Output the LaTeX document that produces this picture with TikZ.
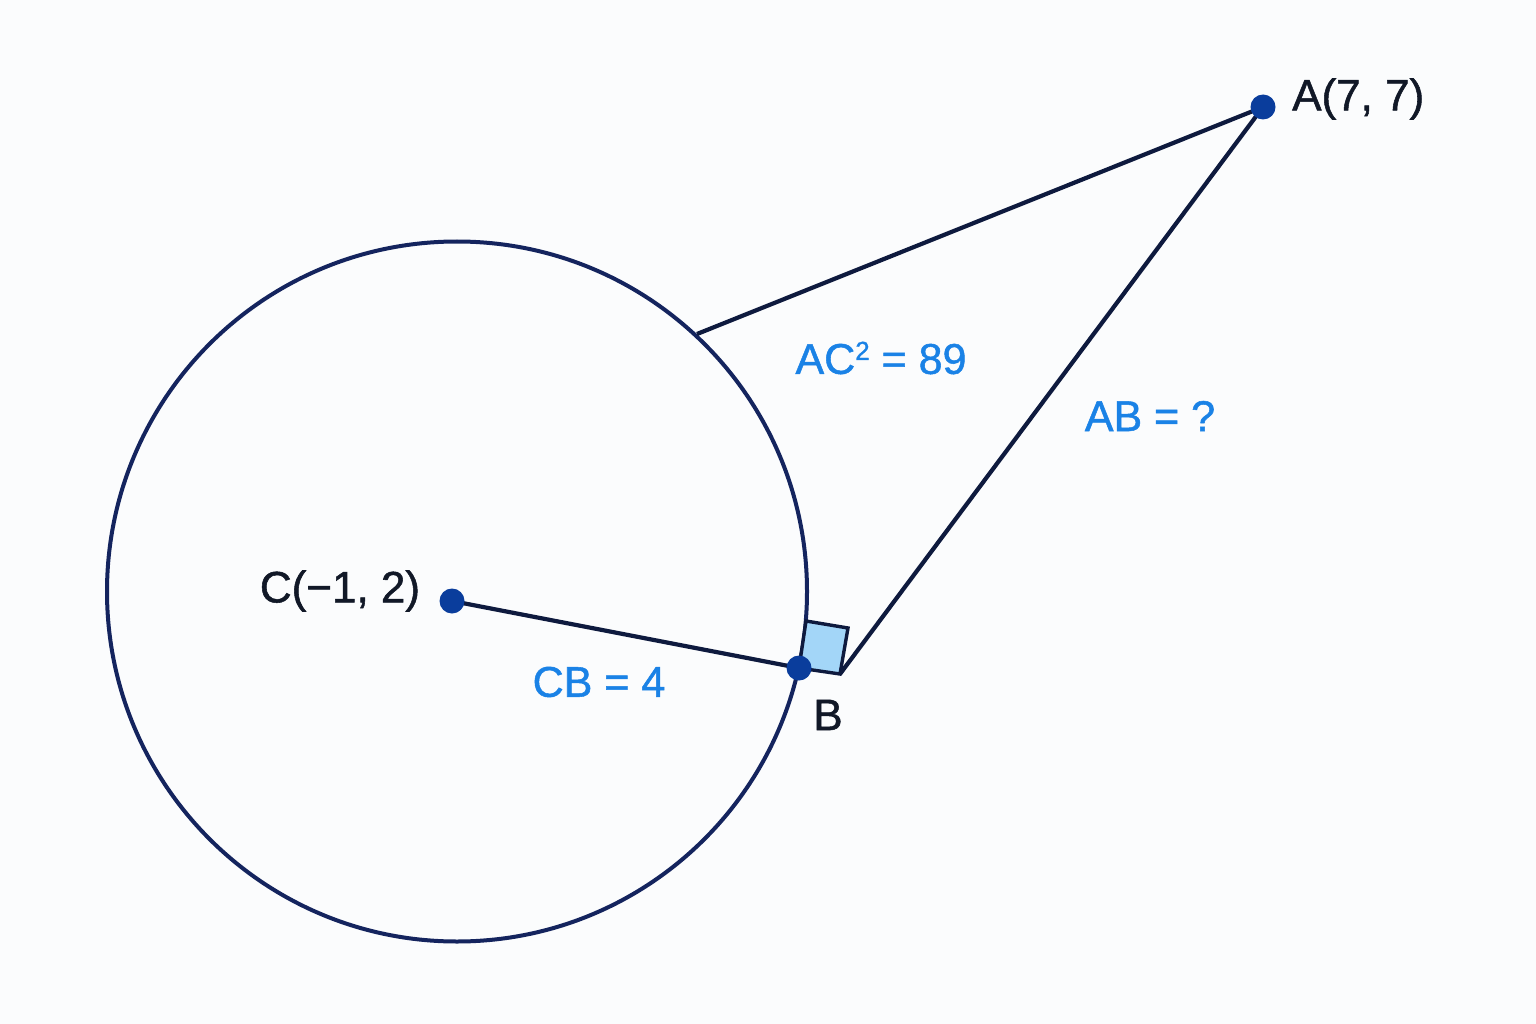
\documentclass[tikz,border=0pt]{standalone}
\usepackage{fontspec}
\setmainfont{Liberation Sans}
\newfontfamily\medfont{Liberation Sans}[FakeBold=1.2]
\definecolor{bgc}{HTML}{FBFCFD}
\definecolor{navy}{HTML}{14245E}
\definecolor{linec}{HTML}{0E1A3E}
\definecolor{dotc}{HTML}{0A3D9C}
\definecolor{lblue}{HTML}{1A82E6}
\definecolor{sqfill}{HTML}{A3D6F8}
\definecolor{txt}{HTML}{111827}
\tikzset{
  seg/.style={draw=linec, line width=4.2pt},
  ptdot/.style={circle, fill=dotc, inner sep=0pt, minimum size=25pt},
  ptlabel/.style={text=txt, font=\medfont\fontsize{44}{52}\selectfont, inner sep=0pt},
  measlabel/.style={text=lblue, font=\medfont\fontsize{43}{50}\selectfont, inner sep=0pt},
}
\begin{document}
\begin{tikzpicture}[x=1pt,y=-1pt]
\useasboundingbox[fill=bgc] (0,0) rectangle (1536,1024);
\coordinate (O) at (457,591.5);
\coordinate (C) at (452,601);
\coordinate (B) at (799,668);
\coordinate (A) at (1263,107);
\coordinate (P) at (697,334);
\coordinate (S1) at (806,621);
\coordinate (S2) at (848,628);
\coordinate (Q) at (840,674);
% circle
\draw[draw=navy, line width=4pt] (O) circle (350);
% segments
\draw[seg] (P) -- (A);
\draw[seg] (A) -- (Q);
\draw[seg] (C) -- (B);
% right angle marker
\draw[fill=sqfill, draw=linec, line width=3.4pt, line join=miter] (B) -- (S1) -- (S2) -- (Q) -- cycle;
% dots
\node[ptdot] (Cd) at (C) {};
\node[ptdot] (Bd) at (B) {};
\node[ptdot] (Ad) at (A) {};
% labels
\node[ptlabel, anchor=west] (Alab) at (1292,99) {A(7, 7)};
\node[ptlabel] (Clab) at (340,591) {C(−1, 2)};
\node[ptlabel] (Blab) at (828,715) {B};
\node[measlabel] (AClab) at (881,358) {AC\raisebox{14pt}{\fontsize{26}{28}\selectfont 2} = 89};
\node[measlabel] (ABlab) at (1150,416) {AB = ?};
\node[measlabel] (CBlab) at (599,682) {CB = 4};
\end{tikzpicture}
\end{document}
